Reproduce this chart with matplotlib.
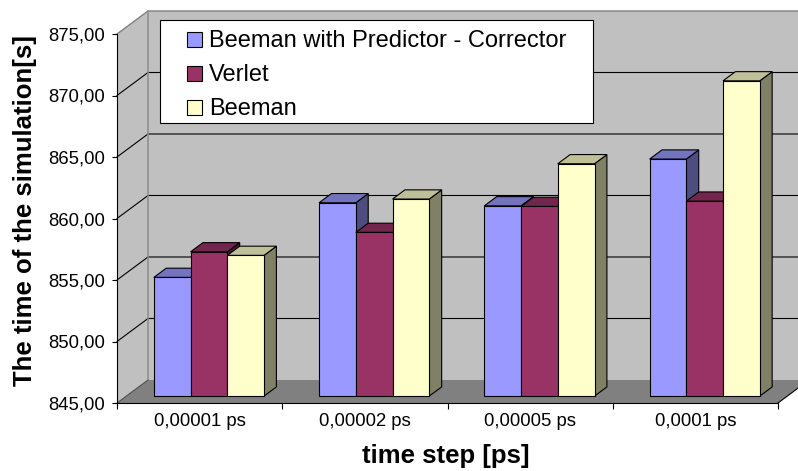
import matplotlib
matplotlib.use('Agg')
import matplotlib.pyplot as plt
from matplotlib.patches import Polygon, Rectangle

plt.rcParams['font.family'] = ['Liberation Sans', 'DejaVu Sans']

# simulation run times per integration scheme and time step
steps = ['0,00001 ps', '0,00002 ps', '0,00005 ps', '0,0001 ps']
series = ['Beeman with Predictor - Corrector', 'Verlet', 'Beeman']
beeman_pc = [854.65, 860.72, 860.47, 864.27]
verlet = [856.73, 858.31, 860.42, 860.85]
beeman = [856.44, 861.02, 863.89, 870.63]
y_ticks = [845, 850, 855, 860, 865, 870, 875]

front_col = ['#9999FF', '#993366', '#FFFFCC']
top_col = ['#7373BF', '#73264D', '#BFBF99']
side_col = ['#4D4D80', '#4D1A33', '#808066']

W, H = 798, 471
fig = plt.figure(figsize=(W / 100, H / 100), dpi=100)
fig.patch.set_facecolor('white')
ax = fig.add_axes([117 / W, 68 / H, 661 / W, 369 / H])
ymin, ymax = y_ticks[0], y_ticks[-1]
n = len(steps)
ax.set_xlim(0, n)
ax.set_ylim(ymin, ymax)
ax.patch.set_visible(False)

# depth of the 3d box in data units
DX = 31 / 661 * n
DY = 23 / 369 * (ymax - ymin)
xr = n + DX

# walls
ax.add_patch(Polygon([(0, ymin), (DX, ymin + DY), (DX, ymax + DY), (0, ymax)],
                     closed=True, fc='#C0C0C0', ec='none', clip_on=False, zorder=0.5))
ax.add_patch(Polygon([(DX, ymin + DY), (xr, ymin + DY), (xr, ymax + DY), (DX, ymax + DY)],
                     closed=True, fc='#C0C0C0', ec='none', clip_on=False, zorder=0.5))
for v in y_ticks[1:-1]:
    ax.plot([0, DX, xr], [v, v + DY, v + DY], color='black', lw=0.8,
            clip_on=False, zorder=0.6)
ax.plot([0, DX, xr], [ymax, ymax + DY, ymax + DY], color='#808080', lw=1,
        clip_on=False, zorder=0.6)
ax.plot([DX, DX], [ymin + DY, ymax + DY], color='#8C8C8C', lw=1.1,
        clip_on=False, zorder=0.6)

# floor
ax.add_patch(Polygon([(0, ymin), (n, ymin), (n + DX, ymin + DY), (DX, ymin + DY)],
                     closed=True, fc='#808080', ec='none', clip_on=False, zorder=0.7))
ax.plot([0, DX], [ymin, ymin + DY], color='#505050', lw=0.8, clip_on=False, zorder=0.75)
ax.plot([n, n + DX], [ymin, ymin + DY], color='black', lw=0.8, clip_on=False, zorder=0.75)

# 3d columns
bw = 1 / 4.5
d0, d1 = 0.3, 0.7
ddx = (d1 - d0) * DX
ddy = (d1 - d0) * DY
for i in range(n):
    for j, vals in enumerate([beeman_pc, verlet, beeman]):
        v = vals[i]
        x0 = i + 0.75 * bw + j * bw + d0 * DX
        x1 = x0 + bw
        b = ymin + d0 * DY
        t = v + d0 * DY
        kw = dict(ec='black', lw=0.8, clip_on=False, zorder=1, joinstyle='miter')
        ax.add_patch(Polygon([(x1, b), (x1 + ddx, b + ddy), (x1 + ddx, t + ddy), (x1, t)],
                             closed=True, fc=side_col[j], **kw))
        ax.add_patch(Polygon([(x0, t), (x1, t), (x1 + ddx, t + ddy), (x0 + ddx, t + ddy)],
                             closed=True, fc=top_col[j], **kw))
        ax.add_patch(Rectangle((x0, b), bw, v - ymin, fc=front_col[j], **kw))

# axes
for s in ['top', 'right']:
    ax.spines[s].set_visible(False)
for s in ['left', 'bottom']:
    ax.spines[s].set_linewidth(0.8)
    ax.spines[s].set_color('black')
ax.set_yticks(y_ticks)
ax.set_yticklabels([f'{v:.2f}'.replace('.', ',') for v in y_ticks])
ax.tick_params(axis='y', direction='out', length=3.6, width=0.8, pad=5, labelsize=13.3)
ax.set_xticks(range(n + 1))
ax.set_xticklabels([])
ax.set_xticks([i + 0.5 for i in range(n)], minor=True)
ax.set_xticklabels(steps, minor=True)
ax.tick_params(axis='x', which='major', direction='out', length=4.3, width=0.8)
ax.tick_params(axis='x', which='minor', length=0, pad=7.2, labelsize=13.3)


def fx(x):
    return x / W


def fy(y):
    return 1 - y / H


fig.text(fx(446), fy(463), 'time step [ps]', ha='center', va='baseline',
         fontsize=18.5, fontweight='bold')
fig.text(fx(32), fy(211), 'The time of the simulation[s]', ha='center', va='baseline',
         rotation=90, rotation_mode='anchor', fontsize=18.5, fontweight='bold')

# legend box
fig.add_artist(Rectangle((fx(160), fy(123)), (593 - 160) / W, (123 - 20) / H,
                         transform=fig.transFigure, fc='white', ec='black', lw=0.8, zorder=5))
for k, name in enumerate(series):
    base = 47 + 34 * k
    fig.add_artist(Rectangle((fx(187), fy(base)), 15 / W, 15 / H, transform=fig.transFigure,
                             fc=front_col[k], ec='black', lw=0.8, zorder=6))
    fig.text(fx(209), fy(base), name, fontsize=17, ha='left', va='baseline', zorder=6)

fig.savefig('out.png', dpi=100)
